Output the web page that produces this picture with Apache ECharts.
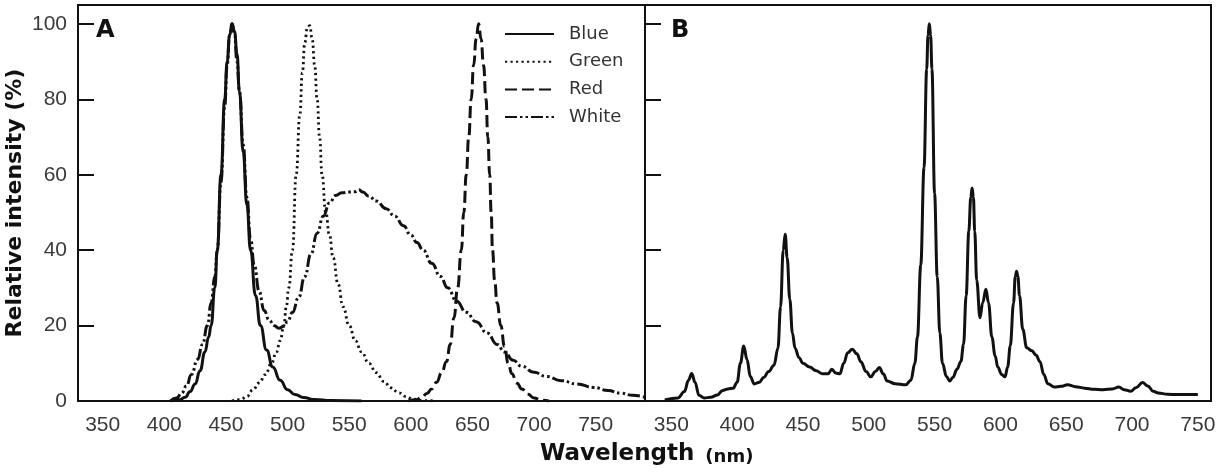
<!DOCTYPE html>
<html lang="en">
<head>
    <title>LED spectra</title>
    <meta charset="utf-8">
    <script src="https://cdn.jsdelivr.net/npm/echarts@6.0.0/dist/echarts.min.js"></script>
    <style>
        html, body { margin: 0; padding: 0; background: #fff; }
        #chart { width: 1221px; height: 472px; }
    </style>
</head>
<body>
<div id="chart"></div>
<script type="text/javascript">
    // wavelength (nm), relative intensity (%)
    var blueSpectrum = [[405,0],[412,0.3],[417,1],[421,2.5],[425,4.5],[429,8],[433,13],[436,17],[438,20],[441,30],[443,40],[446,60],[449,80],[451,90],[453,97],[455,100],[457,98],[459,92],[461,82],[464,66],[467,52],[470,40],[474,28],[478,20],[483,13.5],[488,9],[494,5.5],[500,3],[506,1.7],[513,0.9],[522,0.4],[535,0.1],[560,0]];
    var greenSpectrum = [[455,0],[462,0.4],[467,1.2],[472,3],[477,4.8],[482,7],[487,10],[491,13],[494,16],[497,20],[499,25],[501,30],[504,40],[507,60],[510,76],[512,87],[514,95],[516,99],[518,99.5],[520,96],[522,89],[524,80],[526,70],[528,60],[531,50],[534,44],[537,38],[541,31],[545,25],[550,20],[555,16],[560,13],[566,10],[572,7.5],[578,5.2],[584,3.5],[590,2.2],[596,1.2],[602,0.5],[610,0.1],[620,0]];
    var redSpectrum = [[598,0],[604,0.3],[609,1],[613,2],[617,3.2],[621,5],[625,7.5],[629,10.5],[632,15],[635,22],[638,30],[641,40],[643,50],[645,60],[647,70],[649,80],[651,89],[653,96],[655,100],[657,96],[659,89],[661,80],[662.5,70],[664,60],[665.2,50],[666.3,40],[668,32],[670,26],[673,20],[676,14.5],[679,10],[682,7.2],[686,4.8],[690,3.2],[695,1.8],[700,0.8],[706,0.2],[712,0]];
    var whiteSpectrum = [[405,0],[410,0.8],[414,2],[418,4],[422,7],[427,11],[431,15],[435,20],[438,26],[441,33],[443,40],[446,58],[449,78],[451,89],[453,97],[455,100],[457,97],[459,90],[461,82],[464,68],[467,54],[470,43],[473,36],[477,29],[481,24],[485,21.5],[489,20],[493,19.3],[497,19.8],[500,21],[504,23.5],[509,27.5],[514,33],[519,39],[524,44.5],[529,49],[534,52.5],[539,54.5],[544,55.2],[550,55.4],[555,55.5],[558,56],[561,55.4],[566,54.3],[572,53],[580,51],[587,49],[594,46.5],[600,44],[605,42],[610,40],[617,36.5],[624,33],[630,30],[637,26.5],[645,23.5],[653,21],[662,18],[670,15],[676,13],[683,10.8],[690,9.2],[700,7.6],[710,6.5],[722,5.4],[735,4.5],[748,3.6],[760,2.8],[770,2.1],[780,1.5],[790,1.0]];
    // panel B lamp spectrum
    var lampSpectrum = [[345,0.3],[355,0.8],[360,2.5],[363,5.5],[365.5,7.3],[368,5],[371,1.5],[375,0.8],[380,1.0],[385,1.6],[389,2.8],[393,3.2],[397,3.4],[400,5],[402.5,10],[405,14.6],[407.5,11],[410,6.5],[413,4.5],[417,5],[420,6.2],[424,7.8],[428,9.5],[431,14],[433,25],[435,40],[436.5,44.2],[438,38],[440,27],[442,18],[444,14],[447,11.5],[450,10],[455,9],[460,8],[465,7.2],[469,7.2],[472,8.4],[475,7.4],[478,7.2],[481,10],[484,12.8],[487.5,13.7],[491,12.5],[494,10.4],[498,7.8],[501.5,6.4],[505,7.8],[508,8.9],[511,7.2],[514,5.3],[520,4.6],[528,4.3],[532,5.5],[535,10],[537,17],[539.5,36],[542,62],[544,88],[545,97],[546,100],[547,97],[548,88],[550,55],[552,33],[554,18],[556,10],[559,6.5],[561.5,5.3],[564,6.3],[567,8.4],[570,10.5],[572,15],[574,28],[576,45],[577.5,54],[578.5,56.5],[579.5,54],[580.5,45],[582,32],[584.5,22.1],[586.5,26],[589,29.6],[591,26],[593.5,17],[596,12],[598,9],[601,7],[603.5,6.4],[605.5,9],[607.5,14.6],[610,26],[611.3,33],[612.3,34.4],[613.3,33],[614.5,28],[617,19],[620,14.1],[624,13.3],[627,12.2],[630,10.5],[633,7],[636,4.6],[641,3.7],[646,3.9],[651,4.3],[657,3.8],[664,3.4],[671,3.1],[678,3.0],[685,3.2],[690,3.7],[694,3.0],[699,2.6],[703,3.5],[708,4.9],[712,4],[716,2.6],[720,2.1],[727,1.8],[735,1.7],[745,1.7],[750,1.7]];

    var xTickLabels = [350, 400, 450, 500, 550, 600, 650, 700, 750];
    var yTickLabels = [0, 20, 40, 60, 80, 100];
    var yTicks = [20, 40, 60, 80, 100];
    var legendNames = ['Blue', 'Green', 'Red', 'White'];

    var ink = '#111';
    var labelFont = {color: '#3a3a3a', fontSize: 21, fontFamily: 'Liberation Sans'};

    function xAxisFor(grid, min, max) {
        return {
            type: 'value', gridIndex: grid, min: min, max: max,
            axisLine: {lineStyle: {color: ink, width: 2}},
            axisTick: {show: false},
            splitLine: {show: false},
            axisLabel: Object.assign({customValues: xTickLabels, margin: 14}, labelFont)
        };
    }
    function yAxisFor(grid, showLabels) {
        return {
            type: 'value', gridIndex: grid, min: 0, max: 105,
            axisLine: {show: true, lineStyle: {color: ink, width: 2}},
            axisTick: {show: true, inside: true, length: 16, customValues: yTicks, lineStyle: {color: ink, width: 2}},
            splitLine: {show: false},
            axisLabel: Object.assign({show: showLabels, customValues: yTickLabels, margin: 11}, labelFont),
            name: showLabels ? 'Relative intensity (%)' : '',
            nameLocation: 'middle',
            nameRotate: 90,
            nameGap: 52,
            nameTextStyle: {fontFamily: 'DejaVu Sans', fontWeight: 'bold', fontSize: 22, color: ink}
        };
    }
    function line(name, data, type, width) {
        return {
            name: name, type: 'line', xAxisIndex: 0, yAxisIndex: 0,
            data: data, smooth: 0.5, smoothMonotone: 'x',
            symbol: 'none', silent: true,
            itemStyle: {color: ink},
            lineStyle: {color: ink, width: width, type: type}
        };
    }

    var myChart = echarts.init(document.getElementById('chart'));
    var option = {
        animation: false,
        backgroundColor: '#fff',
        title: [
            {text: 'A', left: 96, top: 19, padding: 0, textStyle: {fontFamily: 'DejaVu Sans', fontWeight: 'bold', fontSize: 24, color: ink}},
            {text: 'B', left: 671, top: 19, padding: 0, textStyle: {fontFamily: 'DejaVu Sans', fontWeight: 'bold', fontSize: 24, color: ink}},
            {
                text: '{a|Wavelength} {b|(nm)}', left: 540, top: 440, padding: 0,
                textStyle: {
                    rich: {
                        a: {fontFamily: 'DejaVu Sans', fontWeight: 'bold', fontSize: 23, color: ink, lineHeight: 26, verticalAlign: 'bottom'},
                        b: {fontFamily: 'DejaVu Sans', fontWeight: 'bold', fontSize: 18, color: ink, lineHeight: 24, verticalAlign: 'bottom', padding: [0, 0, 0, 6]}
                    }
                }
            }
        ],
        legend: {
            data: legendNames, orient: 'vertical', left: 499, top: 20,
            itemWidth: 49, itemHeight: 14, itemGap: 9.7, selectedMode: false,
            itemStyle: {opacity: 0},
            textStyle: {fontFamily: 'DejaVu Sans', fontSize: 18, color: '#333', padding: [0, 0, 0, 10]}
        },
        grid: [
            {left: 78, right: 576, top: 5, bottom: 71, show: true, borderColor: ink, borderWidth: 2},
            {left: 645, right: 10, top: 5, bottom: 71, show: true, borderColor: ink, borderWidth: 2}
        ],
        xAxis: [xAxisFor(0, 330, 790), xAxisFor(1, 330, 760)],
        yAxis: [yAxisFor(0, true), yAxisFor(1, false)],
        series: [
            line('Blue', blueSpectrum, 'solid', 3),
            line('Green', greenSpectrum, [2.2, 3.3], 2.8),
            line('Red', redSpectrum, [12, 5], 3),
            line('White', whiteSpectrum, [12, 3, 2.5, 3, 2.5, 3], 3),
            {
                name: 'Lamp', type: 'line', xAxisIndex: 1, yAxisIndex: 1,
                data: lampSpectrum, smooth: 0.4, smoothMonotone: 'x',
                symbol: 'none', silent: true,
                lineStyle: {color: ink, width: 3}
            }
        ]
    };
    myChart.setOption(option);
</script>
</body>
</html>
